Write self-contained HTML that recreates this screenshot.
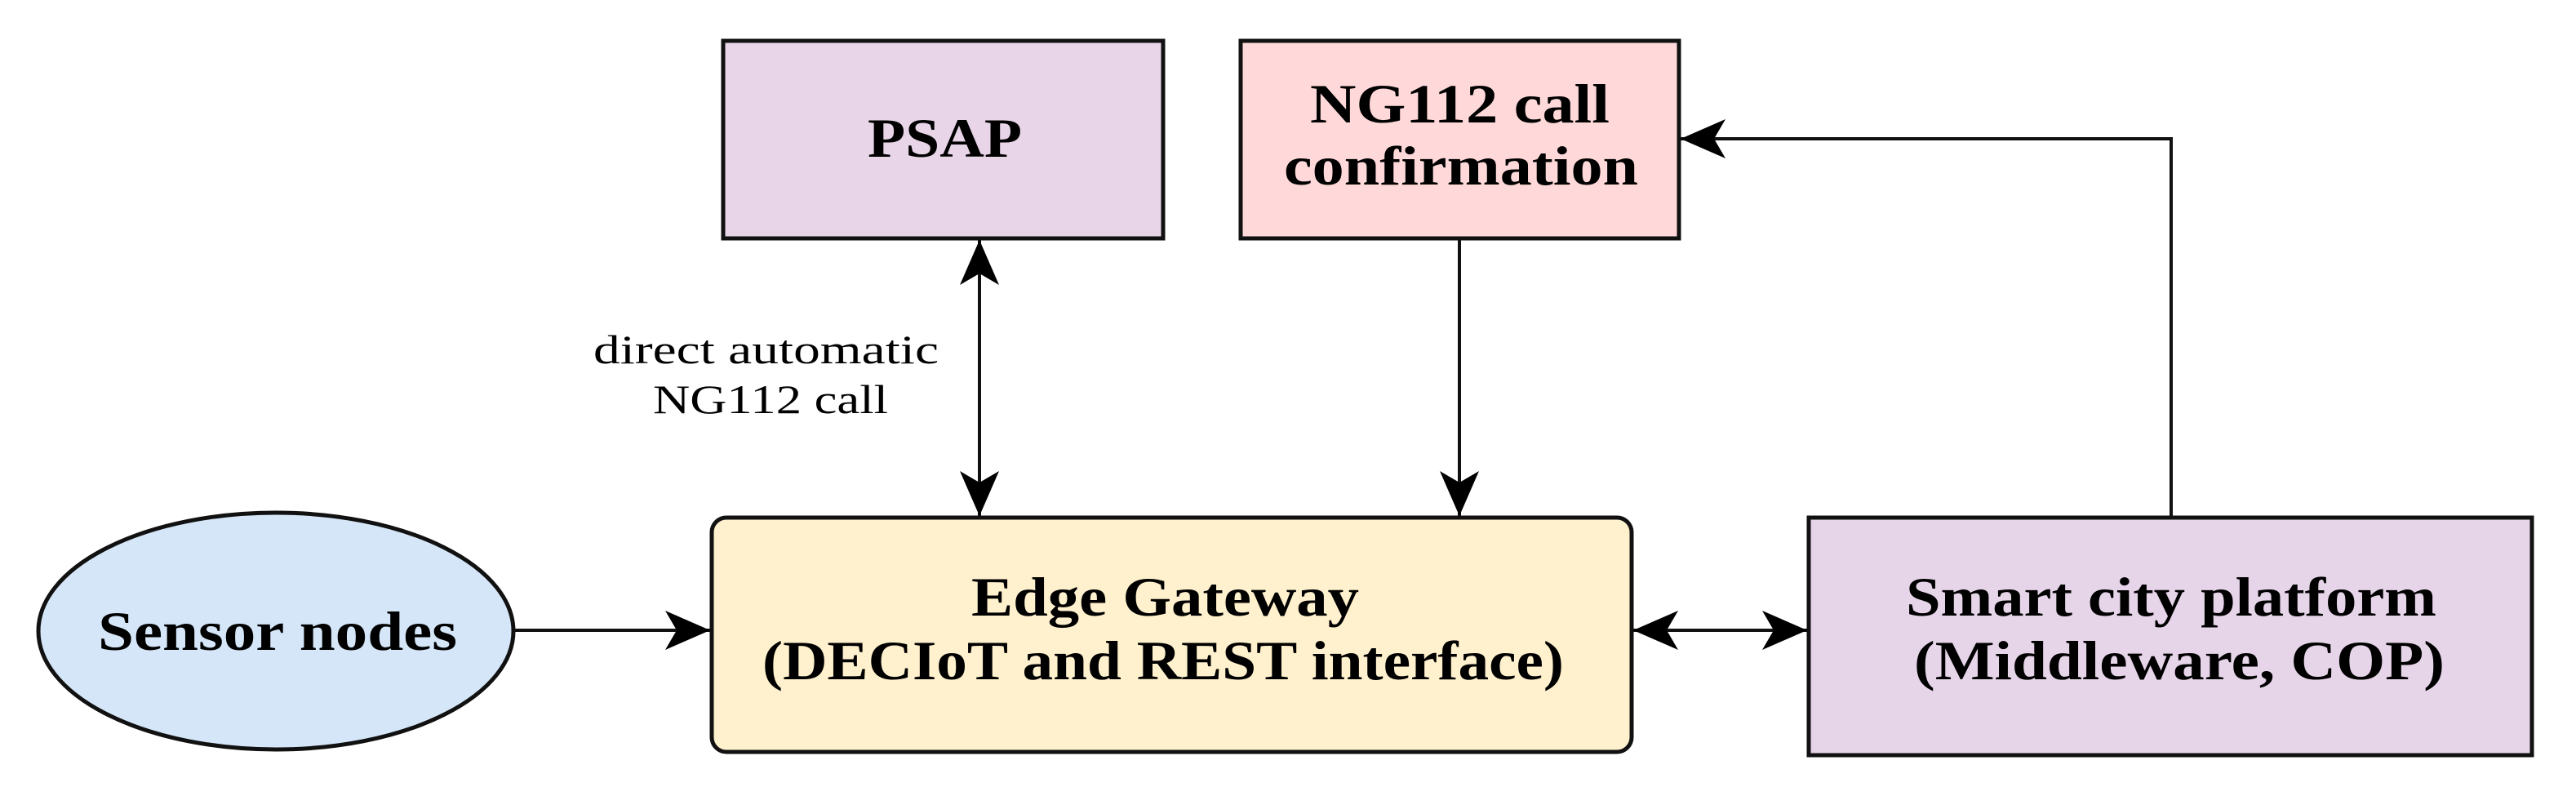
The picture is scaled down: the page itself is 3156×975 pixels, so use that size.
<!DOCTYPE html>
<html><head><meta charset="utf-8"><style>
html,body{margin:0;padding:0;background:#fff;}
svg{display:block;}
text{font-family:"Liberation Serif",serif;fill:#000;}
.b{font-weight:bold;font-size:68px;}
.l{font-size:50px;}
</style></head><body>
<svg width="3156" height="975" viewBox="0 0 3156 975" xmlns="http://www.w3.org/2000/svg">
<defs>
<marker id="a" markerUnits="userSpaceOnUse" markerWidth="60" markerHeight="50" refX="55" refY="24" orient="auto-start-reverse">
<path d="M0,0 L55,24 L0,48 L14,24 Z" fill="#000"/>
</marker>
</defs>
<rect x="886" y="50" width="539" height="242" fill="#e8d5e8" stroke="#111" stroke-width="5"/>
<rect x="1520" y="50" width="537" height="242" fill="#ffd9d9" stroke="#111" stroke-width="5"/>
<rect x="872" y="634" width="1127" height="287" rx="18" fill="#fff1cd" stroke="#111" stroke-width="5"/>
<rect x="2216" y="634" width="886" height="291" fill="#e6d4e8" stroke="#111" stroke-width="5"/>
<ellipse cx="338" cy="773" rx="291" ry="145" fill="#d4e6f8" stroke="#111" stroke-width="5"/>

<line x1="1200" y1="294" x2="1200" y2="632" stroke="#111" stroke-width="4" marker-start="url(#a)" marker-end="url(#a)"/>
<line x1="1788" y1="292" x2="1788" y2="632" stroke="#111" stroke-width="4" marker-end="url(#a)"/>
<polyline points="2660,634 2660,170 2059,170" fill="none" stroke="#111" stroke-width="4" marker-end="url(#a)"/>
<line x1="630" y1="772" x2="870" y2="772" stroke="#111" stroke-width="4" marker-end="url(#a)"/>
<line x1="2001" y1="772" x2="2214" y2="772" stroke="#111" stroke-width="4" marker-start="url(#a)" marker-end="url(#a)"/>

<text class="b" x="1063" y="192" textLength="189" lengthAdjust="spacingAndGlyphs">PSAP</text>
<text class="b" x="1605" y="150" textLength="367" lengthAdjust="spacingAndGlyphs">NG112 call</text>
<text class="b" x="1573" y="226" textLength="434" lengthAdjust="spacingAndGlyphs">confirmation</text>
<text class="b" x="1190" y="754" textLength="475" lengthAdjust="spacingAndGlyphs">Edge Gateway</text>
<text class="b" x="934" y="832" textLength="982" lengthAdjust="spacingAndGlyphs">(DECIoT and REST interface)</text>
<text class="b" x="2335" y="754" textLength="650" lengthAdjust="spacingAndGlyphs">Smart city platform</text>
<text class="b" x="2345" y="832" textLength="650" lengthAdjust="spacingAndGlyphs">(Middleware, COP)</text>
<text class="b" x="120" y="796" textLength="440" lengthAdjust="spacingAndGlyphs">Sensor nodes</text>
<text class="l" x="727" y="445" textLength="423" lengthAdjust="spacingAndGlyphs">direct automatic</text>
<text class="l" x="800" y="506" textLength="288" lengthAdjust="spacingAndGlyphs">NG112 call</text>
</svg>
</body></html>
